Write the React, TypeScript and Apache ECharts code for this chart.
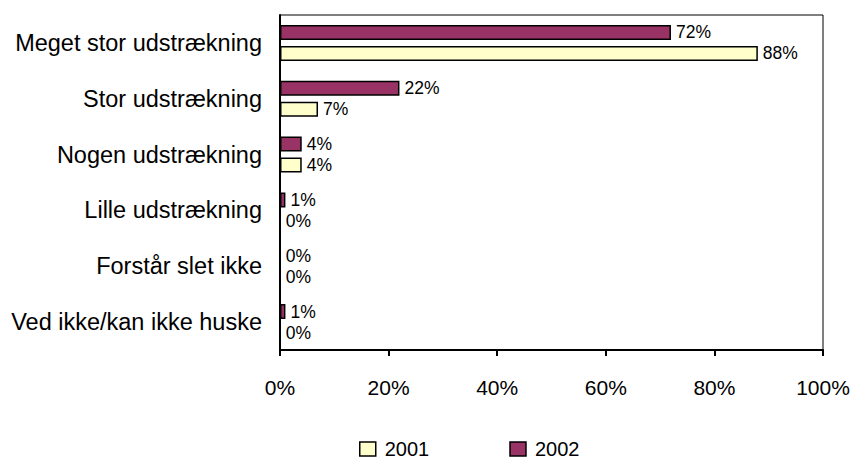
import React, { useEffect, useRef } from "react";
import * as echarts from "echarts";

const categories = [
  "Meget stor udstrækning",
  "Stor udstrækning",
  "Nogen udstrækning",
  "Lille udstrækning",
  "Forstår slet ikke",
  "Ved ikke/kan ikke huske",
];
const values2001 = [88, 7, 4, 0, 0, 0];
const values2002 = [72, 22, 4, 1, 0, 1];
const xTicks = [0, 20, 40, 60, 80, 100];

const FONT = "Arial, 'Liberation Sans', sans-serif";

export default function App() {
  const ref = useRef<HTMLDivElement>(null);

  useEffect(() => {
    if (!ref.current) return;
    const chart = echarts.init(ref.current, undefined, { renderer: "svg" });

    const labelStyle = {
      show: true,
      position: "right" as const,
      distance: 5,
      color: "#000",
      fontFamily: FONT,
      fontSize: 17.5,
      formatter: (p: any) => `${p.value}%`,
    };

    chart.setOption({
      animation: false,
      backgroundColor: "#fff",
      textStyle: { fontFamily: FONT, color: "#000" },
      grid: {
        left: 280,
        right: 30,
        top: 15,
        bottom: 110,
        show: true,
        borderColor: "#000",
        borderWidth: 1,
        containLabel: false,
      },
      legend: {
        data: ["2001", "2002"],
        left: 359,
        top: 439,
        padding: 0,
        itemWidth: 16,
        itemHeight: 14,
        itemGap: 80,
        icon: "rect",
        itemStyle: { borderColor: "#000", borderWidth: 1.5 },
        textStyle: {
          fontFamily: FONT,
          fontSize: 20,
          lineHeight: 20,
          color: "#000",
          padding: [0, 0, 0, 4],
        },
      },
      xAxis: {
        type: "value",
        min: xTicks[0],
        max: xTicks[xTicks.length - 1],
        interval: 20,
        splitLine: { show: false },
        axisLine: { show: true, lineStyle: { color: "#000", width: 2 } },
        axisTick: { show: true, length: 6, lineStyle: { color: "#000", width: 2 } },
        axisLabel: {
          formatter: "{value}%",
          fontFamily: FONT,
          fontSize: 21,
          color: "#000",
          margin: 27,
        },
      },
      yAxis: {
        type: "category",
        data: categories,
        inverse: true,
        axisLine: { show: true, lineStyle: { color: "#000", width: 2 } },
        axisTick: { show: false },
        axisLabel: { fontFamily: FONT, fontSize: 23.5, color: "#000", margin: 18 },
      },
      series: [
        {
          name: "2002",
          type: "bar",
          data: values2002,
          barWidth: 15,
          barGap: "40%",
          itemStyle: { color: "#993366", borderColor: "#000", borderWidth: 1.5 },
          label: labelStyle,
        },
        {
          name: "2001",
          type: "bar",
          data: values2001,
          barWidth: 15,
          barGap: "40%",
          itemStyle: { color: "#FFFFCC", borderColor: "#000", borderWidth: 1.5 },
          label: labelStyle,
        },
      ],
    });

    return () => chart.dispose();
  }, []);

  return (
    <div
      ref={ref}
      style={{ position: "fixed", left: 0, top: 0, width: 853, height: 460 }}
    />
  );
}
